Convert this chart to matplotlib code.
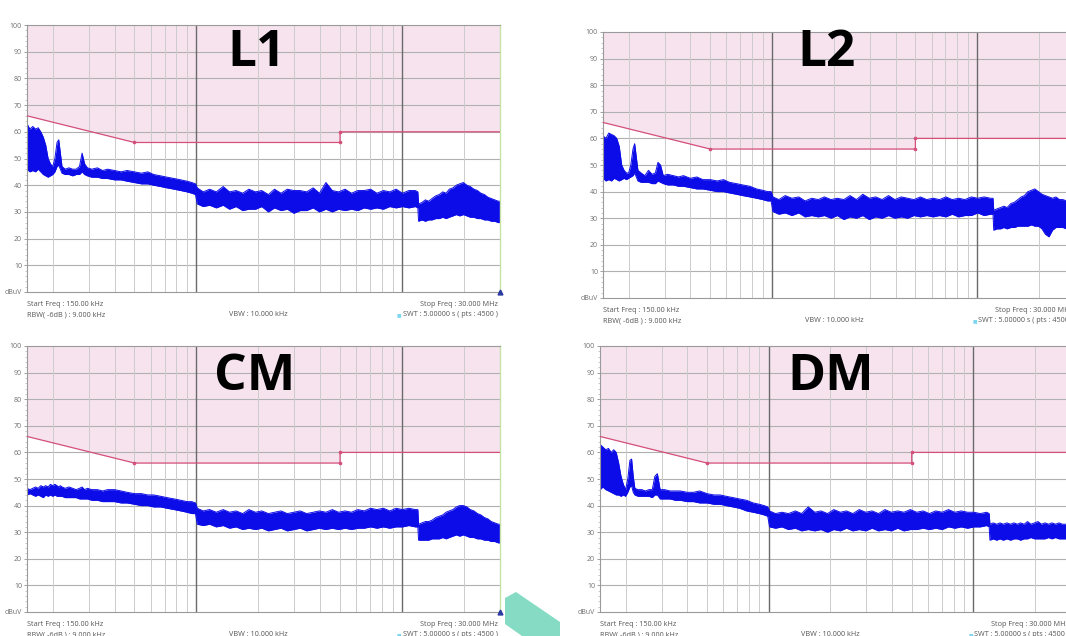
import matplotlib
matplotlib.use("Agg")
import matplotlib.pyplot as plt
from matplotlib.transforms import offset_copy
from matplotlib.patches import Polygon

W, H = 1066, 636

# ---------------- data ----------------
freq_mhz = [0.150, 0.155, 0.160, 0.165, 0.170, 0.175, 0.180, 0.185, 0.190, 0.195,
            0.200, 0.205, 0.210, 0.214, 0.218, 0.222, 0.230, 0.240, 0.250, 0.260,
            0.270, 0.278, 0.286, 0.295,
            0.31, 0.33, 0.35, 0.37, 0.40, 0.43, 0.46, 0.50, 0.54, 0.58,
            0.62, 0.67, 0.72, 0.78, 0.84, 0.90, 0.95, 0.99,
            1.01, 1.08, 1.16, 1.25, 1.35, 1.45, 1.56, 1.68, 1.80, 1.94,
            2.08, 2.24, 2.40, 2.58, 2.77, 2.98, 3.20, 3.44, 3.70, 3.97,
            4.27, 4.58, 4.92, 5.29, 5.68, 6.10, 6.55, 7.04, 7.56, 8.12,
            8.72, 9.37, 10.06, 10.81, 11.61, 11.95,
            12.05, 12.5, 13.0, 13.5, 14.0, 14.6, 15.2, 15.8, 16.4, 17.0,
            17.7, 18.4, 19.1, 19.9, 20.7, 21.5, 22.4, 23.3, 24.2, 25.2,
            26.2, 27.2, 28.3, 29.4, 30.0]

l1_hi = [63, 61, 62, 61, 61.5, 60, 58, 55, 50, 48, 47, 50, 56, 57, 52, 47, 46, 46.5, 46, 46, 47, 52, 48, 46.5,
         46, 46.5, 45.5, 46, 45.5, 45, 45.5, 45, 44.5, 45, 44, 43.5, 43, 42.5, 42, 41.5, 41, 40.5,
         39, 37.5, 38.5, 37.5, 39.5, 37.5, 38, 37, 38.5, 37.5, 38, 36.5, 38.5, 37, 38.5, 38, 38, 37.5,
         39, 37, 41, 38, 37.5, 38.5, 37, 38, 38, 38.5, 37, 38, 37.5, 38.5, 37, 38, 38, 37.5,
         33, 33.5, 34.5, 34, 35, 36, 36.5, 37.5, 37, 38.5, 39, 40, 40.5, 41, 40, 39.5, 38.5, 38,
         37, 36.5, 35.5, 35, 34.5, 34, 34]
l1_lo = [46, 45, 45.5, 45, 46, 45, 44, 43.5, 43, 43.5, 44, 45, 47, 47.5, 46, 44.5, 44, 44, 43.5, 44, 44, 45, 44, 43.5,
         43, 43, 42.5, 42.5, 42, 42, 41.5, 41, 40.5, 40.5, 40, 39.5, 39, 38.5, 38, 37.5, 37, 36.5,
         33, 32, 32.5, 31.5, 32.5, 31, 32, 30.5, 31, 31, 32, 30, 31.5, 30.5, 31, 29.5, 30.5, 30.5,
         31.5, 30, 31, 30, 31, 30.5, 31, 30.5, 31.5, 31, 31.5, 31, 32, 31.5, 32, 31.5, 32, 31.5,
         26.5, 27, 26.5, 27, 27, 27.5, 27.5, 28, 27.5, 28, 28.5, 29, 28.5, 29, 28.5, 28, 28, 27.5,
         27.5, 27, 27, 26.5, 26.5, 26, 26]

l2_hi = [61, 60, 62, 61.5, 61, 60, 57, 50, 48, 47, 47, 50, 56, 58, 53, 48, 47, 46, 48, 46.5, 47, 51, 50, 46,
         46.5, 46, 45.5, 46, 45, 45.5, 44.5, 44.5, 44, 44.5, 43.5, 43, 42.5, 42, 41, 40.5, 40, 40,
         38, 37, 38.5, 37.5, 38, 36.5, 37.5, 37, 38, 37, 37.5, 37, 38.5, 37, 39, 37.5, 38, 37,
         38.5, 37, 38, 37.5, 37, 38, 37, 37.5, 37, 38, 37, 37.5, 37, 38, 37.5, 38, 37.5, 37.5,
         33, 33.5, 34, 34.5, 34, 35.5, 36, 37, 38, 38.5, 40, 40.5, 41, 40, 39, 38.5, 38, 37.5,
         38, 37, 37, 36.5, 36, 35.5, 35]
l2_lo = [45, 44, 44.5, 44, 45, 44.5, 44, 44.5, 45, 44.5, 45, 45.5, 46, 47, 45.5, 44, 43.5, 43.5, 43.5, 43, 43, 44, 43.5, 43,
         42.5, 42.5, 42, 42, 41.5, 41, 41, 40.5, 40, 40, 39.5, 39, 38.5, 38, 37.5, 37, 36.5, 36.5,
         32.5, 31.5, 32, 31, 32, 30.5, 31, 30.5, 31, 30, 31, 29.5, 30.5, 30, 31, 29.5, 30.5, 30,
         31, 30, 30.5, 30, 31, 30.5, 31, 30.5, 31, 30.5, 31.5, 30.5, 31, 31, 32, 31, 31.5, 31.5,
         25.5, 26, 26, 26.5, 26, 26.5, 26.5, 27, 27, 27, 27, 27.5, 27, 27, 26, 24, 23, 25.5,
         26.5, 26.5, 26.5, 26, 26, 26, 26]

cm_hi = [46.5, 46, 46.5, 47, 46.5, 47.5, 47, 47.5, 47, 48, 47.5, 48, 47.5, 47, 47.5, 47, 46.5, 47, 46.5, 46, 46.5, 47, 46, 46.5,
         46, 46, 45.5, 46, 46, 45.5, 45, 44.5, 44.5, 44, 44, 43.5, 43, 42.5, 42, 41.5, 41.5, 41,
         39, 38, 38.5, 37.5, 38.5, 37.5, 38, 37, 38.5, 37.5, 38, 37, 37.5, 38, 37, 37.5, 38, 37,
         37.5, 38, 37.5, 38.5, 37.5, 38, 37.5, 38.5, 38, 39, 38.5, 39, 38, 39, 38.5, 39, 38.5, 38.5,
         33, 33.5, 34, 34, 34.5, 35.5, 36, 36.5, 37.5, 38, 38.5, 39.5, 40, 40, 39.5, 38.5, 38, 37,
         36.5, 35.5, 35, 34, 33.5, 33, 33]
cm_lo = [44, 44.5, 44, 43.5, 44, 43.5, 43, 44, 43.5, 44, 43.5, 44, 43.5, 43.5, 43.5, 43.5, 43, 43, 43, 43, 42.5, 42.5, 42.5, 42.5,
         42, 42, 41.5, 41.5, 41.5, 41, 41, 40.5, 40, 40, 39.5, 39.5, 39, 38.5, 38, 37.5, 37, 37,
         33, 32.5, 33, 32, 32.5, 31.5, 32, 31, 31.5, 31, 31.5, 30.5, 31, 31.5, 30.5, 31, 31.5, 30.5,
         31, 31.5, 31, 31.5, 31, 31.5, 31, 31.5, 31.5, 32, 31.5, 32, 31.5, 32, 32, 32.5, 32, 32,
         27, 27, 27, 27, 27.5, 27.5, 27.5, 28, 27.5, 28, 28.5, 29, 28.5, 29, 28.5, 28, 28, 27.5,
         27.5, 27, 27, 26.5, 26.5, 26, 26]

dm_hi = [63, 62, 61, 61.5, 60, 61, 60, 56, 51, 48, 46, 50, 57, 57.5, 51, 46.5, 46, 46, 45.5, 46, 46, 51, 52, 46,
         46, 45.5, 45.5, 45.5, 45, 45, 45.5, 44.5, 44, 44, 43.5, 43, 42.5, 42, 41, 40.5, 40, 39.5,
         38, 37, 37.5, 37, 38, 37, 39.5, 37.5, 38, 37, 38.5, 37.5, 38, 37, 38.5, 37.5, 38, 37,
         38.5, 37.5, 38, 37.5, 38.5, 37.5, 38, 37, 38, 37.5, 38.5, 37.5, 38, 37.5, 37.5, 37, 37.5, 37,
         33, 33.5, 33, 33.5, 33, 33.5, 33, 33.5, 33, 33.5, 33, 34, 33, 33.5, 34, 33, 33.5, 33,
         33.5, 33, 33.5, 33, 33, 33, 33]
dm_lo = [46, 47, 46, 45.5, 45, 44.5, 44, 44, 43.5, 44, 43.5, 45, 47, 47.5, 45, 44, 43.5, 43.5, 43.5, 43.5, 43, 44, 44, 42.5,
         42.5, 42.5, 42, 42, 41.5, 41.5, 41, 41, 40.5, 40.5, 40, 39.5, 39, 38, 37.5, 37, 36.5, 36,
         32, 31.5, 32, 31, 31.5, 30.5, 31, 30.5, 31, 30, 31, 30.5, 31.5, 30.5, 31, 30.5, 31.5, 30.5,
         31, 30.5, 31.5, 30.5, 31, 31, 31.5, 31, 31.5, 31, 32, 31.5, 32, 31.5, 32, 32, 32.5, 32,
         27, 27.5, 27, 27.5, 27, 27.5, 27, 27.5, 27.5, 27, 27.5, 27.5, 28, 27.5, 27.5, 27.5, 27.5, 28,
         27.5, 28, 27.5, 27.5, 27.5, 27.5, 27.5]

limit_freq = [0.15, 0.5, 5.0, 5.0, 30.0]
limit_db = [66, 56, 56, 60, 60]

panel_names = ["L1", "L2", "CM", "DM"]
panel_hi = [l1_hi, l2_hi, cm_hi, dm_hi]
panel_lo = [l1_lo, l2_lo, cm_lo, dm_lo]
for arr in panel_hi + panel_lo:
    assert len(arr) == len(freq_mhz), (len(arr), len(freq_mhz))

y_ticks = [0, 10, 20, 30, 40, 50, 60, 70, 80, 90, 100]
y_ticklabels = ["dBuV", "10", "20", "30", "40", "50", "60", "70", "80", "90", "100"]
minor_grid_freq = [0.2, 0.3, 0.4, 0.5, 0.6, 0.7, 0.8, 0.9,
                   2, 3, 4, 5, 6, 7, 8, 9, 20, 30]
major_grid_freq = [1, 10]

info_start = "Start Freq : 150.00 kHz"
info_stop = "Stop Freq : 30.000 MHz"
info_rbw = "RBW( -6dB ) : 9.000 kHz"
info_vbw = "VBW : 10.000 kHz"
info_swt = "SWT : 5.00000 s ( pts : 4500 )"

# ---------------- layout (pixel boxes: left, top, right, bottom) ----------------
boxes = [(27, 25, 500, 292), (603, 32, 1075, 298), (27, 346, 500, 612), (600, 346, 1071, 612)]
title_pos = [(257, 53), (827, 53), (255, 377), (831, 377)]

plt.rcParams['font.family'] = ['Open Sans', 'DejaVu Sans']
fig = plt.figure(figsize=(W / 100, H / 100), dpi=100)
fig.patch.set_facecolor('white')

trace_color = '#0c0ce8'
for name, hi, lo, (l, t, r, b), (tx, ty) in zip(panel_names, panel_hi, panel_lo, boxes, title_pos):
    ax = fig.add_axes([l / W, 1 - b / H, (r - l) / W, (b - t) / H])
    ax.set_xscale('log')
    ax.set_xlim(0.15, 30)
    ax.set_ylim(0, 100)
    ax.set_facecolor('white')

    # limit region
    ax.fill_between(limit_freq, limit_db, 100, color='#f6e3ee', zorder=0.5, lw=0)
    # grid
    for yv in range(10, 100, 10):
        ax.axhline(yv, color='#b0b0b0', lw=0.8, zorder=1)
    for fv in minor_grid_freq:
        ax.axvline(fv, color='#cccccc', lw=0.7, zorder=1)
    for fv in major_grid_freq:
        ax.axvline(fv, color='#6a6a6a', lw=1.0, zorder=1)

    # trace
    ax.fill_between(freq_mhz, lo, hi, color=trace_color, lw=0, zorder=2)
    ax.plot(freq_mhz, hi, color=trace_color, lw=0.7, zorder=2)
    ax.plot(freq_mhz, lo, color=trace_color, lw=0.7, zorder=2)

    # limit line
    ax.plot(limit_freq, limit_db, color='#d4507a', lw=0.9, zorder=3)
    ax.plot(limit_freq[1:4], limit_db[1:4], 'o', color='#d4507a', ms=1.6, zorder=3)

    # marker at stop frequency
    ax.plot([30], [0], marker='^', color='#2a3aa0', ms=3.5, clip_on=False, zorder=5)

    # axes styling
    ax.set_xticks([])
    ax.set_xticks([], minor=True)
    ax.set_yticks(y_ticks)
    ax.set_yticklabels(y_ticklabels)
    ax.set_yticks(range(0, 101, 2), minor=True)
    ax.tick_params(axis='y', which='major', length=2.5, width=0.6, color='#909090',
                   labelsize=5, labelcolor='#707070', pad=1)
    ax.tick_params(axis='y', which='minor', length=1.2, width=0.4, color='#a0a0a0')
    for side in ['left', 'bottom', 'top']:
        ax.spines[side].set_color('#9a9a9a')
        ax.spines[side].set_linewidth(0.8)
    ax.spines['right'].set_color('#c6e2a6')
    ax.spines['right'].set_linewidth(1.0)

    # panel title
    fig.text(tx / W, 1 - ty / H, name, fontsize=37, fontweight='bold', color='black',
             ha='center', va='center', family=['Open Sans', 'DejaVu Sans'], zorder=10)

    # info texts below axes
    row1 = offset_copy(ax.transAxes, fig=fig, x=0, y=-12, units='dots')
    row2 = offset_copy(ax.transAxes, fig=fig, x=0, y=-23, units='dots')
    kw = dict(fontsize=5.2, color='#555555', va='center')
    ax.text(0.0, 0.0, info_start, transform=row1, ha='left', **kw)
    ax.text(0.995, 0.0, info_stop, transform=row1, ha='right', **kw)
    ax.text(0.0, 0.0, info_rbw, transform=row2, ha='left', **kw)
    ax.text(0.49, 0.0, info_vbw, transform=row2, ha='center', **kw)
    ax.text(0.995, 0.0, info_swt, transform=row2, ha='right', **kw)
    ax.text(0.787, 0.0, "\u25A0", transform=row2, ha='center', fontsize=3.5,
            color='#7fd6f0', va='center', family=['DejaVu Sans'])

# watermark shape near bottom centre
wm = [(505, 598), (516, 592), (560, 622), (560, 636), (522, 636), (505, 624)]
fig.patches.append(Polygon([(x / W, 1 - y / H) for x, y in wm], closed=True,
                           transform=fig.transFigure, facecolor='#5cd0b0', alpha=0.75,
                           edgecolor='none', zorder=20))

fig.savefig('out.png', dpi=100)
